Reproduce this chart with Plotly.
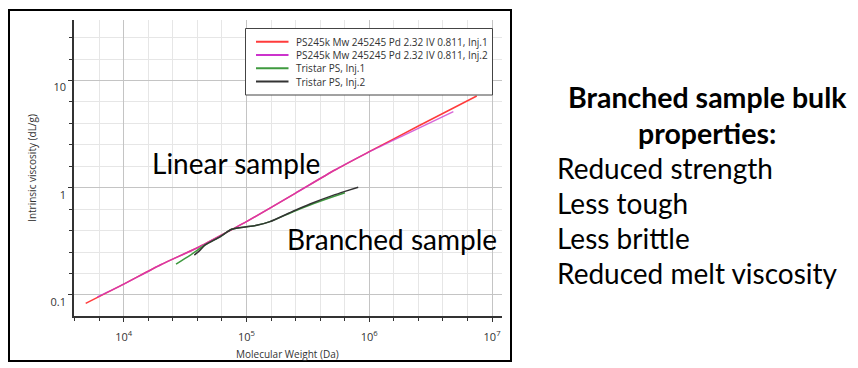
import plotly.graph_objects as go
import numpy as np

# ---- data ----
ps_inj1_mw = [4900, 10000, 20000, 39800, 75900, 100000, 251200, 524800, 1.0e6, 2.512e6, 7.5e6]
ps_inj1_iv = [0.0832, 0.126, 0.191, 0.275, 0.407, 0.482, 0.891, 1.462, 2.168, 3.758, 7.16]

ps_inj2_mw = [6100, 10000, 20000, 39800, 75900, 100000, 251200, 524800, 1.0e6, 2.0e6, 4.84e6]
ps_inj2_iv = [0.0955, 0.126, 0.191, 0.275, 0.407, 0.482, 0.891, 1.462, 2.158, 3.16, 5.12]

tri_inj1_mw = [26670, 34670, 45920, 60810, 75680, 94190, 121100, 155200, 239300, 328900, 505800, 633900]
tri_inj1_iv = [0.194, 0.234, 0.292, 0.348, 0.409, 0.428, 0.446, 0.482, 0.597, 0.690, 0.822, 0.897]

tri_inj2_mw = [37580, 41690, 45920, 60810, 75680, 94190, 121100, 155200, 239300, 328900, 505800, 633900, 812800]
tri_inj2_iv = [0.235, 0.260, 0.292, 0.348, 0.409, 0.428, 0.446, 0.482, 0.603, 0.705, 0.847, 0.923, 1.009]

series_names = ["PS245k Mw 245245 Pd 2.32 IV 0.811, Inj.1",
                "PS245k Mw 245245 Pd 2.32 IV 0.811, Inj.2",
                "Tristar PS, Inj.1",
                "Tristar PS, Inj.2"]
series_colors = ["#ff3b3b", "#cc33cc", "#3f9a3f", "#333333"]
series_opacity = [1.0, 0.75, 1.0, 1.0]

x_major = [1e4, 1e5, 1e6, 1e7]
x_major_text = ["10<sup>4</sup>", "10<sup>5</sup>", "10<sup>6</sup>", "10<sup>7</sup>"]
y_major = [0.1, 1, 10]
y_major_text = ["0.1", "1", "10"]
x_title = "Molecular Weight (Da)"
y_title = "Intrinsic viscosity (dL/g)"

x_minor = [10 ** e for e in np.round(np.arange(3.6, 7.01, 0.2), 1) if abs(e - round(e)) > 1e-6]
y_minor = [10 ** e for e in np.round(np.arange(-1.2, 1.41, 0.2), 1) if abs(e - round(e)) > 1e-6]

bullets = ["Reduced strength", "Less tough", "Less brittle", "Reduced melt viscosity"]

fig = go.Figure()
data = [(ps_inj1_mw, ps_inj1_iv), (ps_inj2_mw, ps_inj2_iv),
        (tri_inj1_mw, tri_inj1_iv), (tri_inj2_mw, tri_inj2_iv)]
for (mx, iv), name, col, op in zip(data, series_names, series_colors, series_opacity):
    fig.add_trace(go.Scatter(x=mx, y=iv, mode="lines", name=name, showlegend=False,
                             opacity=op,
                             line=dict(color=col, width=1.5, shape="spline", smoothing=0.6)))

axis_font = dict(family="Open Sans, sans-serif", size=11, color="#333333")
title_font = dict(family="Open Sans, sans-serif", size=10, color="#333333")

fig.update_layout(
    width=858, height=368,
    margin=dict(l=74, r=356, t=20, b=52, autoexpand=False),
    paper_bgcolor="white", plot_bgcolor="white",
    showlegend=False,
    xaxis=dict(type="log", range=[3.595, 7.081], automargin=False,
               tickmode="array", tickvals=x_major, ticktext=x_major_text,
               showgrid=True, gridcolor="#c4c4c4", gridwidth=1,
               ticks="outside", ticklen=4, tickcolor="#333333",
               showline=True, linecolor="#333333", linewidth=1.5,
               zeroline=False, tickfont=axis_font, ticklabelstandoff=6,
               minor=dict(tickvals=x_minor, showgrid=True, gridcolor="#e6e6e6",
                          ticks="outside", ticklen=3, tickcolor="#333333")),
    yaxis=dict(type="log", range=[-1.197, 1.564], automargin=False,
               tickmode="array", tickvals=y_major, ticktext=y_major_text,
               showgrid=True, gridcolor="#c4c4c4", gridwidth=1,
               ticks="outside", ticklen=4, tickcolor="#333333",
               showline=True, linecolor="#333333", linewidth=1.5,
               zeroline=False, tickfont=axis_font, ticklabelshift=7,
               minor=dict(tickvals=y_minor, showgrid=True, gridcolor="#e6e6e6",
                          ticks="outside", ticklen=3, tickcolor="#333333"),
               title=dict(text=y_title, font=title_font, standoff=12)),
)


def px_x(px):
    return (px - 74) / 428


def px_y(py):
    return (316 - py) / 296


# x-axis title placed precisely
fig.add_annotation(x=px_x(287.5), y=px_y(353.5), xref="paper", yref="paper", text=x_title,
                   showarrow=False, xanchor="center", yanchor="middle", font=title_font)

# frame around the chart image
fig.add_shape(type="rect", xref="paper", yref="paper",
              x0=px_x(9), x1=px_x(511), y0=px_y(361), y1=px_y(10),
              line=dict(color="black", width=2), fillcolor="rgba(0,0,0,0)", layer="above")

# legend box (drawn by hand to match the compact row spacing)
fig.add_shape(type="rect", xref="paper", yref="paper",
              x0=px_x(245.5), x1=px_x(492.5), y0=px_y(95), y1=px_y(28.5),
              line=dict(color="#444444", width=1), fillcolor="white", layer="above")
for i, (name, col) in enumerate(zip(series_names, series_colors)):
    yy = px_y(41.7 + 13.3 * i)
    fig.add_shape(type="line", xref="paper", yref="paper",
                  x0=px_x(256), x1=px_x(288.5), y0=yy, y1=yy,
                  line=dict(color=col, width=2), layer="above")
    fig.add_annotation(x=px_x(294), y=yy, xref="paper", yref="paper", text=name,
                       showarrow=False, xanchor="left", yanchor="middle",
                       font=dict(family="Open Sans, sans-serif", size=10, color="#333333"))

big_font = dict(family="Lato, sans-serif", size=28, color="black")
fig.add_annotation(x=np.log10(82800), y=np.log10(1.70), xref="x", yref="y", text="Linear sample",
                   showarrow=False, xanchor="center", yanchor="middle", font=big_font)
fig.add_annotation(x=np.log10(1.545e6), y=np.log10(0.332), xref="x", yref="y", text="Branched sample",
                   showarrow=False, xanchor="center", yanchor="middle", font=big_font)

# right-hand text
head_font = dict(family="Lato, sans-serif", size=28.5, color="black")
fig.add_annotation(x=px_x(707), y=px_y(97), xref="paper", yref="paper",
                   text="<b>Branched sample bulk</b>", showarrow=False,
                   xanchor="center", yanchor="middle", font=head_font)
fig.add_annotation(x=px_x(707), y=px_y(133), xref="paper", yref="paper",
                   text="<b>properties:</b>", showarrow=False,
                   xanchor="center", yanchor="middle", font=head_font)
for i, t in enumerate(bullets):
    fig.add_annotation(x=px_x(555), y=px_y(168 + 35 * i), xref="paper", yref="paper",
                       text=t, showarrow=False, xanchor="left", yanchor="middle",
                       font=dict(family="Lato, sans-serif", size=28, color="black"))

fig.write_html("out.html")
